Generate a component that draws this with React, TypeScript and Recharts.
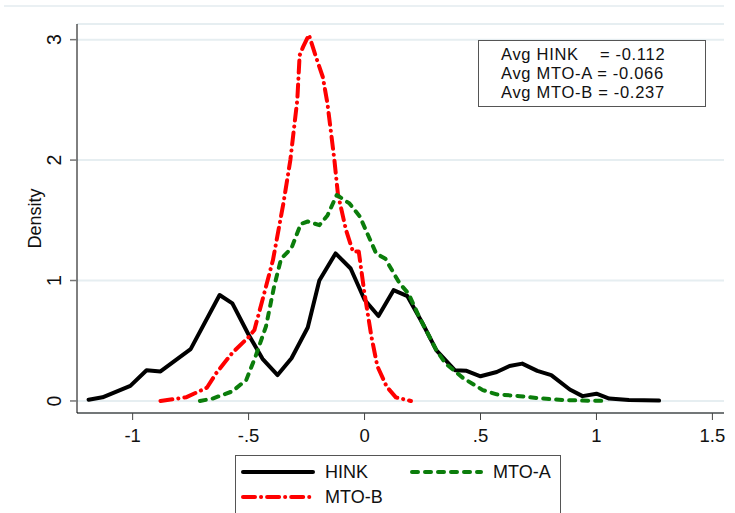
import React from 'react';
import { LineChart, Line, XAxis, YAxis, CartesianGrid } from 'recharts';

// density curves (x = value, y = density)
const hinkX = [-1.19, -1.13, -1.01, -0.94, -0.88, -0.75, -0.625, -0.57, -0.5, -0.44, -0.375, -0.315, -0.245, -0.195, -0.125, -0.06, 0.0, 0.06, 0.125, 0.185, 0.25, 0.31, 0.39, 0.44, 0.5, 0.57, 0.625, 0.68, 0.745, 0.805, 0.885, 0.94, 1.0, 1.055, 1.14, 1.27];
const hinkY = [0.01, 0.03, 0.125, 0.255, 0.245, 0.43, 0.88, 0.81, 0.55, 0.35, 0.215, 0.355, 0.61, 1.0, 1.225, 1.1, 0.84, 0.705, 0.92, 0.87, 0.645, 0.42, 0.255, 0.25, 0.205, 0.24, 0.29, 0.31, 0.25, 0.215, 0.095, 0.04, 0.06, 0.02, 0.008, 0.003];

const mtoAX = [-0.71, -0.655, -0.57, -0.51, -0.47, -0.425, -0.39, -0.36, -0.315, -0.275, -0.245, -0.195, -0.16, -0.12, -0.065, -0.02, 0.05, 0.09, 0.15, 0.19, 0.235, 0.31, 0.35, 0.425, 0.51, 0.57, 0.67, 0.755, 0.855, 0.94, 1.05];
const mtoAY = [0.0, 0.02, 0.08, 0.175, 0.37, 0.62, 0.95, 1.18, 1.27, 1.47, 1.49, 1.46, 1.54, 1.71, 1.64, 1.53, 1.225, 1.18, 0.98, 0.89, 0.7, 0.42, 0.31, 0.19, 0.09, 0.055, 0.04, 0.022, 0.008, 0.003, 0.0];

const mtoBX = [-0.88, -0.77, -0.68, -0.64, -0.57, -0.5, -0.475, -0.44, -0.395, -0.35, -0.32, -0.29, -0.28, -0.265, -0.24, -0.21, -0.18, -0.16, -0.13, -0.115, -0.08, -0.05, -0.025, 0.0, 0.03, 0.055, 0.095, 0.135, 0.2];
const mtoBY = [0.0, 0.03, 0.11, 0.23, 0.4, 0.53, 0.59, 0.84, 1.17, 1.64, 2.0, 2.5, 2.87, 2.94, 3.04, 2.86, 2.69, 2.47, 2.0, 1.72, 1.42, 1.24, 1.24, 0.89, 0.53, 0.29, 0.12, 0.03, 0.0];

const xTicks = [-1, -0.5, 0, 0.5, 1, 1.5];
const yTicks = [0, 1, 2, 3];
const avgLines = ['Avg HINK    = -0.112', 'Avg MTO-A = -0.066', 'Avg MTO-B = -0.237'];

const toPoints = (xs: number[], ys: number[]) => xs.map((x, i) => ({ x, y: ys[i] }));
const hinkData = toPoints(hinkX, hinkY);
const mtoAData = toPoints(mtoAX, mtoAY);
const mtoBData = toPoints(mtoBX, mtoBY);

const FONT = '"Liberation Sans", Arial, sans-serif';
const GREEN = '#0b7d0b';
const RED = '#ff0000';
const GREEN_DASH = '6 7';
const RED_DASH = '12 6 0.1 6';

const fmtX = (v: number) => {
    if (v === 0) return '0';
    const s = String(v);
    return s.replace(/^(-?)0\./, '$1.');
};

const YTick = (props: any) => {
    const { x, y, payload } = props;
    return (
        <text x={x - 14} y={y} transform={`rotate(-90, ${x - 14}, ${y})`} textAnchor="middle"
            dominantBaseline="central" fontSize={19.5} fontFamily={FONT} fill="#111">
            {payload.value}
        </text>
    );
};

const XTick = (props: any) => {
    const { x, y, payload } = props;
    return (
        <text x={x} y={y + 13} textAnchor="middle" dominantBaseline="central" fontSize={18.5} fontFamily={FONT} fill="#111">
            {fmtX(payload.value)}
        </text>
    );
};

const App: React.FC = () => {
    return (
        <div style={{ position: 'fixed', left: 0, top: 0, width: 735, height: 513, overflow: 'hidden', background: '#fff' }}>
            <div style={{ position: 'absolute', left: 4, top: 5, width: 720, borderTop: '2px solid #eaf0f3' }} />
            <LineChart width={735} height={513} margin={{ top: 24, right: 11, bottom: 0, left: 0 }}>
                <CartesianGrid horizontal vertical={false} stroke="#e6eef1" strokeWidth={2} />
                <XAxis
                    type="number"
                    dataKey="x"
                    domain={[-1.24, 1.55]}
                    ticks={xTicks}
                    allowDataOverflow
                    height={100}
                    tickSize={7}
                    tick={<XTick />}
                    stroke="#000"
                    tickLine={{ stroke: '#444' }}
                />
                <YAxis
                    type="number"
                    dataKey="y"
                    domain={[-0.1, 3.13]}
                    ticks={yTicks}
                    allowDataOverflow
                    width={77}
                    tickSize={7}
                    tick={<YTick />}
                    stroke="#000"
                    tickLine={{ stroke: '#777', strokeWidth: 1.5 }}
                    label={{
                        value: 'Density',
                        content: (p: any) => {
                            const vb = p.viewBox;
                            const cy = vb.y + vb.height / 2;
                            return (
                                <text x={35} y={cy} transform={`rotate(-90, 35, ${cy})`} textAnchor="middle"
                                    dominantBaseline="central" fontSize={18} fontFamily={FONT} fill="#111">
                                    Density
                                </text>
                            );
                        }
                    }}
                />
                <Line data={hinkData} dataKey="y" type="linear" stroke="#000" strokeWidth={4}
                    strokeLinejoin="round" strokeLinecap="round" dot={false} isAnimationActive={false} />
                <Line data={mtoBData} dataKey="y" type="linear" stroke={RED} strokeWidth={4}
                    strokeDasharray={RED_DASH} strokeLinejoin="round" strokeLinecap="round" dot={false} isAnimationActive={false} />
                <Line data={mtoAData} dataKey="y" type="linear" stroke={GREEN} strokeWidth={4}
                    strokeDasharray={GREEN_DASH} strokeLinejoin="round" strokeLinecap="round" dot={false} isAnimationActive={false} />
            </LineChart>

            {/* averages box */}
            <div style={{
                position: 'absolute', left: 478, top: 40, width: 226, height: 65, border: '1px solid #555',
                background: '#fff', fontFamily: FONT, fontSize: 16.5, letterSpacing: '0.7px', color: '#111', boxSizing: 'content-box'
            }}>
                {avgLines.map((t, i) => (
                    <div key={i} style={{ position: 'absolute', left: 22, top: 4 + i * 19.2, height: 19, lineHeight: '19px', whiteSpace: 'pre' }}>{t}</div>
                ))}
            </div>

            {/* legend */}
            <svg style={{ position: 'absolute', left: 235, top: 455 }} width={327} height={60}>
                <rect x={0.5} y={0.5} width={325} height={70} fill="#fff" stroke="#555" />
                <line x1={8} y1={17} x2={78} y2={17} stroke="#000" strokeWidth={4} strokeLinecap="round" />
                <text x={90} y={17} dominantBaseline="central" fontSize={18} fontFamily={FONT} fill="#111">HINK</text>
                <line x1={177} y1={17} x2={246} y2={17} stroke={GREEN} strokeWidth={4} strokeLinecap="round" strokeDasharray={GREEN_DASH} />
                <text x={258} y={17} dominantBaseline="central" fontSize={18} fontFamily={FONT} fill="#111">MTO-A</text>
                <line x1={8} y1={42} x2={78} y2={42} stroke={RED} strokeWidth={4} strokeLinecap="round" strokeDasharray={RED_DASH} />
                <text x={90} y={42} dominantBaseline="central" fontSize={18} fontFamily={FONT} fill="#111">MTO-B</text>
            </svg>
        </div>
    );
};

export default App;
